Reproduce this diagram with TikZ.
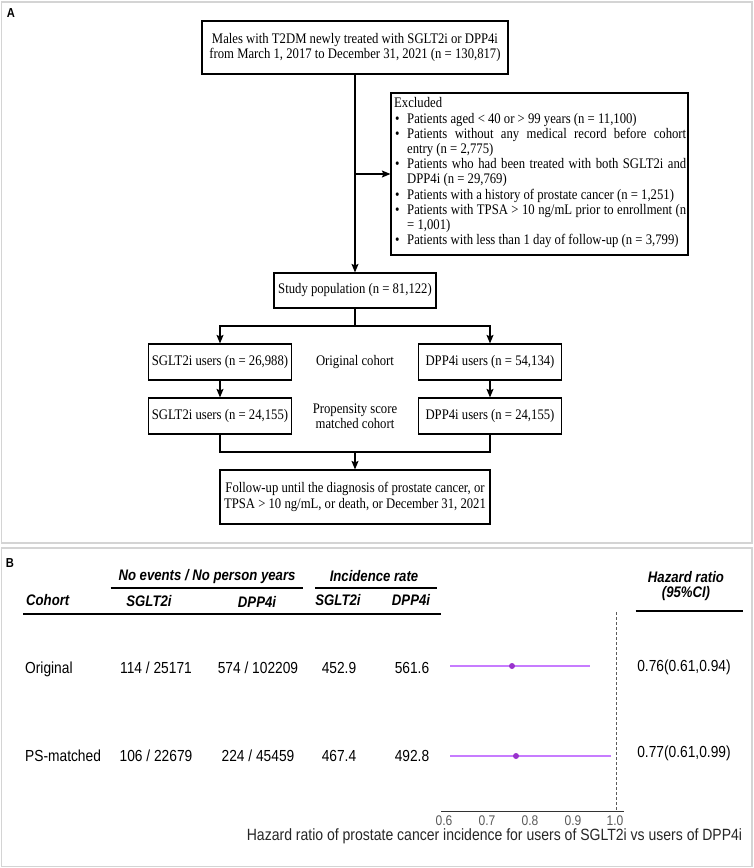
\documentclass[tikz,border=0pt]{standalone}
\usepackage{fontspec}
\setmainfont[FakeStretch=0.87]{Liberation Serif}
\setsansfont[FakeStretch=0.86]{Liberation Sans}
\usetikzlibrary{arrows.meta}
\newcommand\flowfont{\fontsize{14.6}{15.2}\selectfont}
\newcommand\hdfont{\sffamily\bfseries\itshape\fontsize{15.3}{17}\selectfont}
\newcommand\cellfont{\sffamily\fontsize{16}{18}\selectfont}
\newcommand\bul{\makebox[13pt][l]{\hspace{1pt}•}}
\definecolor{framegray}{RGB}{212,212,212}
\definecolor{ciline}{RGB}{199,124,255}
\definecolor{cipoint}{RGB}{153,51,204}
\definecolor{axisgray}{RGB}{90,90,90}
\begin{document}
\begin{tikzpicture}[x=1pt,y=-1pt,
  box/.style={draw=black,line width=1.2pt,inner sep=0pt,align=center,font=\flowfont},
  conn/.style={line width=1.1pt},
  arr/.style={line width=1.1pt,-{Stealth[length=8.5pt,width=7pt,inset=1.5pt]}},
  framebox/.style={draw=framegray,line width=1.2pt},
  panellab/.style={font=\sffamily\bfseries\fontsize{13}{15}\selectfont},
  hd/.style={font=\hdfont,inner sep=0pt},
  cell/.style={font=\cellfont,inner sep=0pt},
  rulethin/.style={line width=1.2pt},
  rulethick/.style={line width=1.7pt},
  tick/.style={font=\sffamily\fontsize{14}{16}\selectfont,text=axisgray,inner sep=0pt}
 ]
\useasboundingbox (0,0) rectangle (754,868);
% panel frames
\draw[framebox] (1.5,2) rectangle (752,543);
\draw[framebox] (1.5,548) rectangle (752,866.5);
\node[panellab] (labA) at (11,13) {A};
\node[panellab] (labB) at (10,563) {B};

% ---------- flowchart ----------
\node[box,minimum width=306pt,minimum height=53pt] (top) at (355,47.5)
  {Males with T2DM newly treated with SGLT2i or DPP4i\\from March 1, 2017 to December 31, 2021 (n = 130,817)};
\node[box,minimum width=297pt,minimum height=162pt] (excl) at (539.5,174) {};
\node[anchor=north west,inner sep=0pt,font=\flowfont] (excltext) at (394,97) {%
\begin{tabular}{@{}l@{}l@{}}
\multicolumn{2}{@{}l@{}}{Excluded}\\
\bul & Patients aged < 40 or > 99 years (n = 11,100)\\
\bul & \makebox[279pt][s]{Patients without any medical record before cohort}\\
 & entry (n = 2,775)\\
\bul & \makebox[279pt][s]{Patients who had been treated with both SGLT2i and}\\
 & DPP4i (n = 29,769)\\
\bul & Patients with a history of prostate cancer (n = 1,251)\\
\bul & \makebox[279pt][s]{Patients with TPSA > 10 ng/mL prior to enrollment (n}\\
 & = 1,001)\\
\bul & Patients with less than 1 day of follow-up (n = 3,799)
\end{tabular}};
\node[box,minimum width=162pt,minimum height=35pt] (study) at (355,290.5) {Study population (n = 81,122)};
\node[box,minimum width=143.5pt,minimum height=36pt] (sg1) at (220,362) {SGLT2i users (n = 26,988)};
\node[box,minimum width=143.5pt,minimum height=36pt] (dp1) at (490,362) {DPP4i users (n = 54,134)};
\node[box,minimum width=143.5pt,minimum height=36pt] (sg2) at (220,416) {SGLT2i users (n = 24,155)};
\node[box,minimum width=143.5pt,minimum height=36pt] (dp2) at (490,416) {DPP4i users (n = 24,155)};
\node[font=\flowfont,inner sep=0pt] (origlab) at (355,362) {Original cohort};
\node[font=\flowfont,inner sep=0pt,align=center] (psmlab) at (355,416.5) {Propensity score\\matched cohort};
\node[box,minimum width=270pt,minimum height=54pt] (final) at (355,497)
  {Follow-up until the diagnosis of prostate cancer, or\\TPSA > 10 ng/mL, or death, or December 31, 2021};

\coordinate (exclturn) at (top.south |- excl.west);
\coordinate (split) at (355,326);
\coordinate (merge) at (355,452);
\draw[arr] (top.south) -- (study.north);
\draw[arr] (exclturn) -- (excl.west);
\draw[conn] (study.south) -- (split);
\draw[arr] (split) -| (sg1.north);
\draw[arr] (split) -| (dp1.north);
\draw[arr] (sg1.south) -- (sg2.north);
\draw[arr] (dp1.south) -- (dp2.north);
\draw[conn] (sg2.south) |- (merge);
\draw[conn] (dp2.south) |- (merge);
\draw[arr] (merge) -- (final.north);

% ---------- forest table ----------
\node[hd] (hdev) at (207,577) {No events / No person years};
\node[hd] (hdinc) at (374,576) {Incidence rate};
\node[hd] (hdhr1) at (686,577) {Hazard ratio};
\node[hd] (hdhr2) at (686,594) {(95\%CI)};
\draw[rulethin] (110.5,588) -- (303,588);
\draw[rulethin] (315,588) -- (436.5,588);
\node[hd,anchor=west] (hdcoh) at (26,600) {Cohort};
\node[hd] (hdsg1) at (149,601) {SGLT2i};
\node[hd] (hddp1) at (257,602) {DPP4i};
\node[hd] (hdsg2) at (338,600) {SGLT2i};
\node[hd] (hddp2) at (411,600) {DPP4i};
\draw[rulethick] (23,614) -- (441,614);
\draw[rulethick] (635.5,611) -- (743,611);

\node[cell,anchor=west] (r1c0) at (25,669) {Original};
\node[cell] (r1c1) at (156,668) {114 / 25171};
\node[cell] (r1c2) at (258,668) {574 / 102209};
\node[cell] (r1c3) at (339,668) {452.9};
\node[cell] (r1c4) at (412,668) {561.6};
\node[cell] (r1hr) at (684,667) {0.76(0.61,0.94)};
\node[cell,anchor=west] (r2c0) at (25,756) {PS-matched};
\node[cell] (r2c1) at (156,756) {106 / 22679};
\node[cell] (r2c2) at (258,756) {224 / 45459};
\node[cell] (r2c3) at (339,756) {467.4};
\node[cell] (r2c4) at (412,756) {492.8};
\node[cell] (r2hr) at (684,753) {0.77(0.61,0.99)};

% ---------- forest plot ----------
\draw[axisgray,line width=0.9pt,dash pattern=on 3pt off 2pt] (616,612) -- (616,811);
\draw[ciline,line width=1.5pt] (450,666) -- (590,666);
\fill[cipoint] (512,666) circle (3pt);
\draw[ciline,line width=1.5pt] (450,756) -- (611,756);
\fill[cipoint] (516,756) circle (3pt);
\draw[black!80,line width=1pt] (441,811) -- (624,811);
\foreach \v/\xx in {0.6/444,0.7/487,0.8/530,0.9/573,1.0/615}{
  \node[tick] at (\xx,820.5) {\v};
}
\node[font=\sffamily\fontsize{16.3}{18}\selectfont,text=black!85,inner sep=0pt] (axtitle) at (494.5,836) {Hazard ratio of prostate cancer incidence for users of SGLT2i vs users of DPP4i};
\end{tikzpicture}
\end{document}
